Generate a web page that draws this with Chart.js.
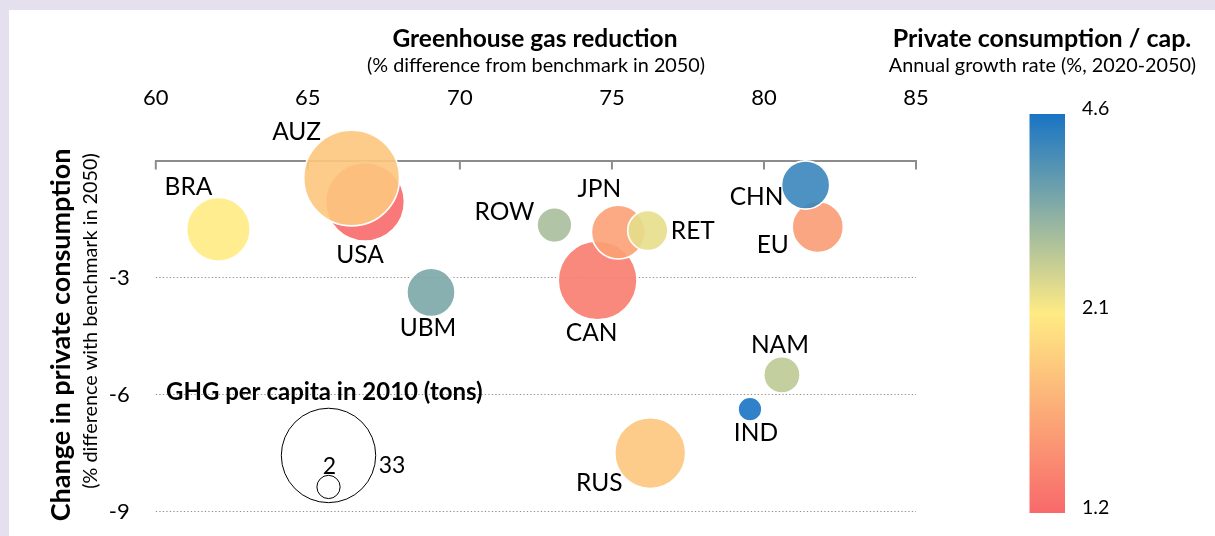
<!DOCTYPE html>
<html>
<head>
<meta charset="utf-8">
<script src="https://cdn.jsdelivr.net/npm/chart.js@4.4.1/dist/chart.umd.min.js"></script>
<style>
  html, body { margin: 0; padding: 0; background: #e5e0ee; }
  canvas { display: block; }
</style>
</head>
<body>
<canvas id="chart" width="1215" height="536"></canvas>
<script>
// Regions, drawn in this order so that overlapping bubbles stack correctly
const regions = ['USA', 'AUZ', 'BRA', 'ROW', 'UBM', 'CAN', 'JPN', 'RET', 'EU', 'CHN', 'NAM', 'IND', 'RUS'];
// Greenhouse gas reduction (% difference from benchmark in 2050)
const ghgReduction = [66.88, 66.44, 62.06, 73.11, 69.05, 74.53, 75.21, 76.18, 81.77, 81.37, 80.59, 79.54, 76.26];
// Change in private consumption (% difference with benchmark in 2050)
const consumptionChange = [-1.06, -0.45, -1.77, -1.66, -3.39, -3.08, -1.84, -1.80, -1.71, -0.63, -5.51, -6.39, -7.52];
// GHG per capita in 2010 (tons) -> bubble area
const ghgPerCapita = [23, 34, 15, 4.5, 8.6, 23, 10.7, 6, 9.7, 8.6, 4.9, 2.1, 18.6];
// Private consumption per capita, annual growth rate (%, 2020-2050) -> bubble colour
const growthRate = [1.2, 1.85, 2.1, 3.03, 3.52, 1.33, 1.59, 2.38, 1.55, 4.23, 2.8, 4.6, 1.84];

// Axes
const xRange = [60, 85];
const xStep = 5;
const yRange = [-9, 0];
const yGridValues = [-3, -6, -9];

// Colour scale (min, midpoint, max) and its colours
const colorStops = [1.2, 2.1, 4.6];
const colorStopColors = [[248, 105, 107], [255, 235, 132], [24, 116, 196]];

// Size legend
const sizeLegendValues = [33, 2];
const sizeLegendPos = { x: 65.68, y: [-7.58, -8.39] };

// Label placement around each bubble (pixel offset of the text centre)
const labelOffset = {
  USA: [-5, 52], AUZ: [-55, -47], BRA: [-30, -43], ROW: [-50, -14], UBM: [-3, 35],
  CAN: [-6, 52], JPN: [-19, -44], RET: [45, 0], EU: [-45, 17], CHN: [-49, 11],
  NAM: [-2, -31], IND: [6, 23], RUS: [-51, 29]
};

const FONT = 'Lato, "Open Sans", sans-serif';
const AREA = { left: 155.8, right: 916, top: 160.5, bottom: 510.7 };
const bubbleRadius = v => 8.216 * Math.sqrt(v);

function scaleColor(v, alpha) {
  let a, b, f;
  if (v <= colorStops[1]) {
    a = colorStopColors[0]; b = colorStopColors[1];
    f = (v - colorStops[0]) / (colorStops[1] - colorStops[0]);
  } else {
    a = colorStopColors[1]; b = colorStopColors[2];
    f = (v - colorStops[1]) / (colorStops[2] - colorStops[1]);
  }
  f = Math.max(0, Math.min(1, f));
  const c = a.map((ch, i) => Math.round(ch + (b[i] - ch) * f));
  return `rgba(${c[0]},${c[1]},${c[2]},${alpha})`;
}
const rgb = c => `rgb(${c[0]},${c[1]},${c[2]})`;

const regionData = regions.map((name, i) => ({
  x: ghgReduction[i], y: consumptionChange[i], r: bubbleRadius(ghgPerCapita[i])
}));
const legendData = sizeLegendValues.map((v, i) => ({
  x: sizeLegendPos.x, y: sizeLegendPos.y[i], r: bubbleRadius(v)
}));

function text(ctx, str, x, y, size, opts = {}) {
  ctx.save();
  ctx.font = `${opts.bold ? 'bold ' : ''}${size}px ${FONT}`;
  ctx.fillStyle = opts.color || '#000';
  ctx.textAlign = opts.align || 'center';
  ctx.textBaseline = opts.baseline || 'alphabetic';
  if (opts.rotate) {
    ctx.translate(x, y);
    ctx.rotate(opts.rotate);
    ctx.fillText(str, 0, 0);
  } else {
    ctx.fillText(str, x, y);
  }
  ctx.restore();
}

const backgroundPlugin = {
  id: 'panelBackground',
  beforeDraw(chart) {
    const ctx = chart.ctx;
    ctx.save();
    ctx.fillStyle = '#e5e0ee';
    ctx.fillRect(0, 0, chart.width, chart.height);
    ctx.fillStyle = '#ffffff';
    ctx.fillRect(9, 10, chart.width - 9, chart.height - 10);
    ctx.restore();
  }
};

const gridPlugin = {
  id: 'dottedGridAndTicks',
  beforeDatasetsDraw(chart) {
    const { ctx, chartArea, scales } = chart;
    ctx.save();
    // dotted horizontal guides with their value labels
    yGridValues.forEach(v => {
      const y = Math.round(scales.y.getPixelForValue(v)) + 0.5;
      ctx.strokeStyle = '#8f8f8f';
      ctx.lineWidth = 1.2;
      ctx.setLineDash([1.3, 2.2]);
      ctx.beginPath();
      ctx.moveTo(chartArea.left, y);
      ctx.lineTo(chartArea.right, y);
      ctx.stroke();
      text(ctx, String(v), chartArea.left - 26, y, 22, { align: 'right', baseline: 'middle' });
    });
    // tick marks hanging inward from the top axis line
    ctx.setLineDash([]);
    ctx.strokeStyle = '#8c8c8c';
    ctx.lineWidth = 2;
    scales.x.ticks.forEach(t => {
      const x = scales.x.getPixelForValue(t.value);
      ctx.beginPath();
      ctx.moveTo(x, chartArea.top);
      ctx.lineTo(x, chartArea.top + 9);
      ctx.stroke();
    });
    ctx.restore();
  }
};

const annotationPlugin = {
  id: 'annotations',
  afterDatasetsDraw(chart) {
    const ctx = chart.ctx;
    // region names
    const meta = chart.getDatasetMeta(0);
    meta.data.forEach((el, i) => {
      const off = labelOffset[regions[i]];
      text(ctx, regions[i], el.x + off[0], el.y + off[1] + 8.8, 24.5);
    });

    // size legend
    const lm = chart.getDatasetMeta(1).data;
    text(ctx, 'GHG per capita in 2010 (tons)', 166, 400, 24, { bold: true, align: 'left' });
    text(ctx, String(sizeLegendValues[1]), lm[1].x + 1, lm[1].y - lm[1].options.radius - 1, 23);
    text(ctx, String(sizeLegendValues[0]), lm[0].x + lm[0].options.radius + 3, lm[0].y + 18, 23, { align: 'left' });

    // axis titles
    text(ctx, 'Greenhouse gas reduction', 535, 46.7, 24.5, { bold: true });
    text(ctx, '(% difference from benchmark in 2050)', 536, 72, 19.8);
    text(ctx, 'Change in private consumption', 70, 335, 27, { bold: true, rotate: -Math.PI / 2 });
    text(ctx, '(% difference with benchmark in 2050)', 97, 321, 19.8, { rotate: -Math.PI / 2 });

    // colour scale
    const bar = { x: 1029.5, w: 35.5, top: 114, bottom: 513 };
    const g = ctx.createLinearGradient(0, bar.bottom, 0, bar.top);
    colorStops.forEach((v, i) => g.addColorStop(i / (colorStops.length - 1), rgb(colorStopColors[i])));
    ctx.save();
    ctx.fillStyle = g;
    ctx.fillRect(bar.x, bar.top, bar.w, bar.bottom - bar.top);
    ctx.restore();
    colorStops.forEach((v, i) => {
      const y = bar.bottom - (bar.bottom - bar.top) * i / (colorStops.length - 1);
      text(ctx, v.toFixed(1), 1082, y + 0.5, 19.5, { align: 'left' });
    });
    text(ctx, 'Private consumption / cap.', 1042, 46.7, 25, { bold: true });
    text(ctx, 'Annual growth rate (%, 2020-2050)', 1042.5, 72, 19.8);
  }
};

// axis boxes get a fixed size and no label overhang, so the plot frame stays put
const noOverhang = s => { s.paddingTop = 0; s.paddingBottom = 0; s.paddingLeft = 0; s.paddingRight = 0; };

const chart = new Chart(document.getElementById('chart'), {
  type: 'bubble',
  data: {
    datasets: [
      {
        label: 'Regions',
        data: regionData,
        backgroundColor: regionData.map((d, i) => scaleColor(growthRate[i], 0.9)),
        borderColor: '#ffffff',
        borderWidth: 1.6,
        clip: false
      },
      {
        label: 'GHG per capita in 2010 (tons)',
        data: legendData,
        backgroundColor: 'rgba(0,0,0,0)',
        borderColor: '#000000',
        borderWidth: 1,
        clip: false
      }
    ]
  },
  plugins: [backgroundPlugin, gridPlugin, annotationPlugin],
  options: {
    responsive: false,
    animation: false,
    events: [],
    layout: {
      autoPadding: false,
      padding: { left: 0, top: 0, right: 1215 - AREA.right, bottom: 536 - AREA.bottom }
    },
    plugins: { legend: { display: false }, tooltip: { enabled: false } },
    elements: { point: { hoverRadius: 0 } },
    scales: {
      x: {
        type: 'linear',
        position: 'top',
        min: xRange[0], max: xRange[1],
        ticks: { stepSize: xStep, color: '#000', font: { family: FONT, size: 22, lineHeight: 1 }, padding: 52 },
        grid: { drawOnChartArea: false, drawTicks: false },
        border: { display: true, color: '#8c8c8c', width: 2 },
        afterFit: s => { s.height = AREA.top; noOverhang(s); }
      },
      y: {
        type: 'linear',
        min: yRange[0], max: yRange[1],
        ticks: { display: false, stepSize: 3 },
        grid: { display: false, drawTicks: false },
        border: { display: false },
        afterFit: s => { s.width = AREA.left; noOverhang(s); }
      }
    }
  }
});
</script>
</body>
</html>
